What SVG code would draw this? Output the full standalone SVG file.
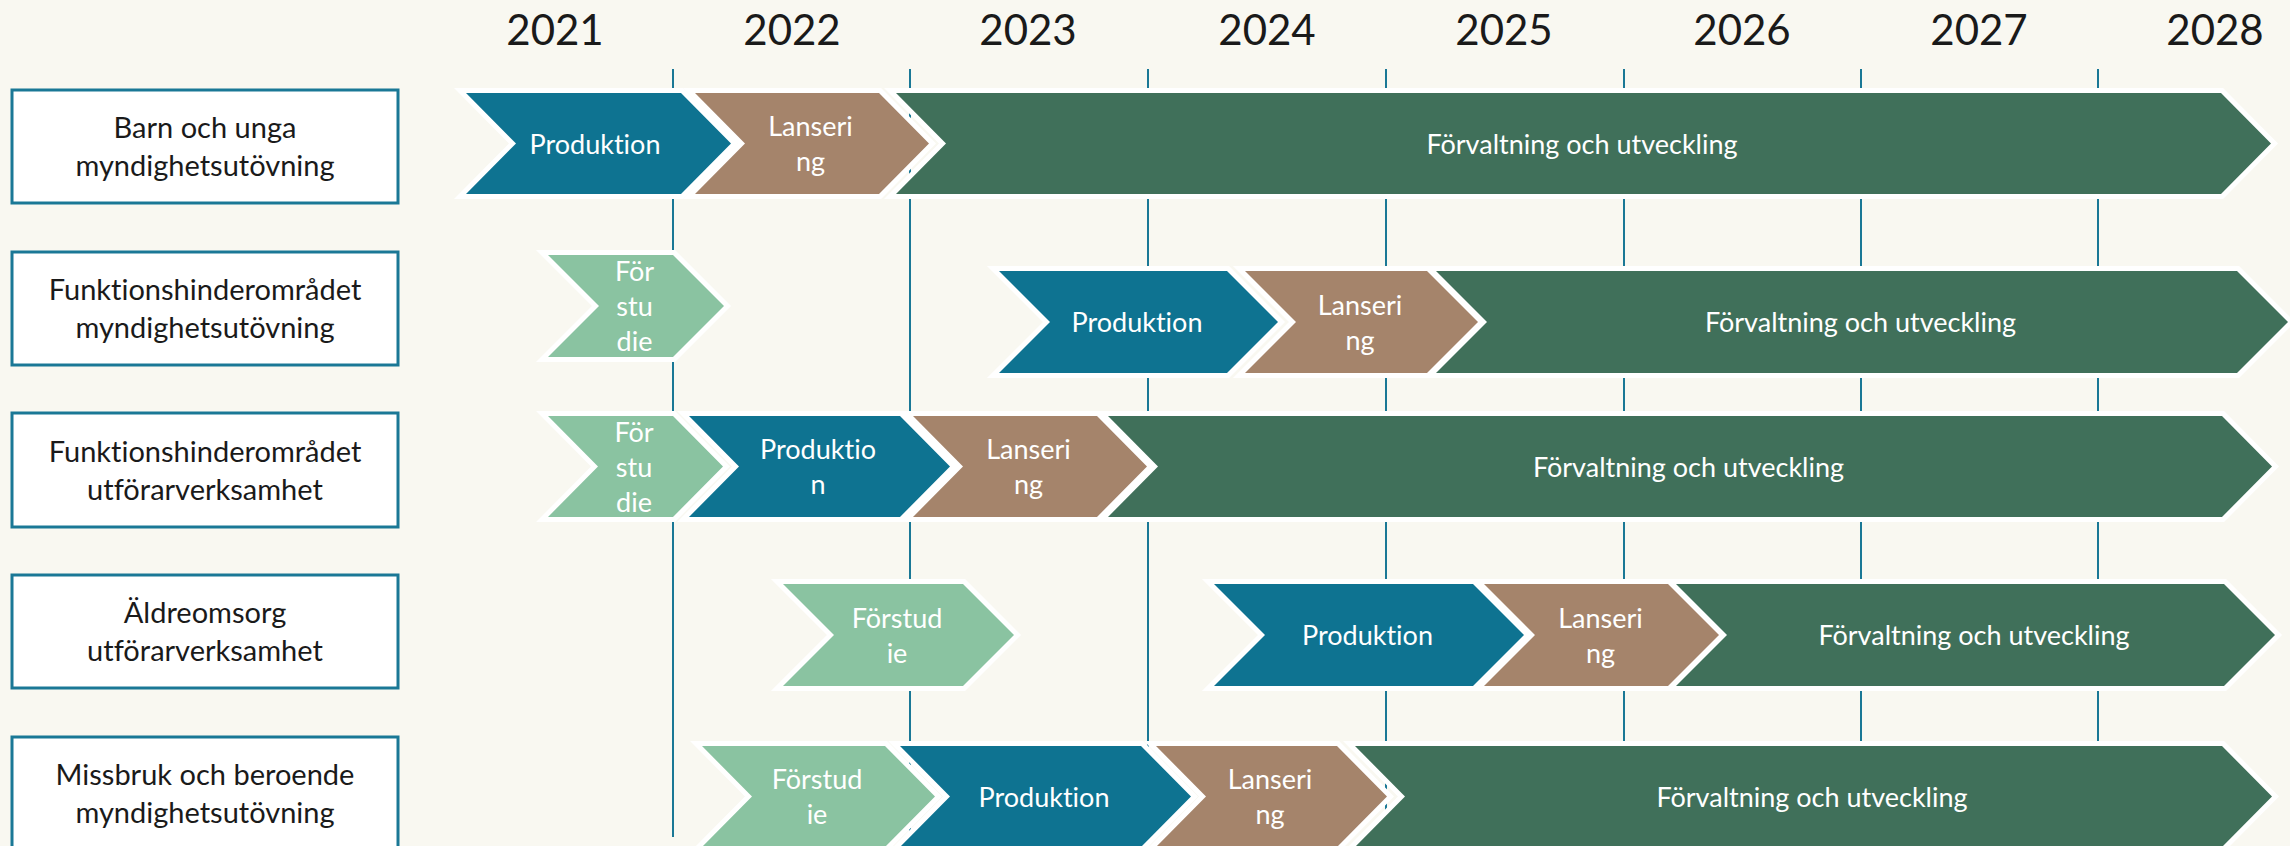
<svg xmlns="http://www.w3.org/2000/svg" width="2290" height="846" viewBox="0 0 2290 846">
<style>
.bg{fill:#F9F8F1}
.grid line{stroke:#1A7896;stroke-width:2}
.box{fill:#FFFFFF;stroke:#1A7896;stroke-width:3}
text{font-variant-ligatures:none;font-feature-settings:"liga" 0,"clig" 0}
.lbl{font-family:Lato,"Liberation Sans",sans-serif;font-size:29px;fill:#1A1A1A;text-anchor:middle}
.yr{font-family:Lato,"Liberation Sans",sans-serif;font-size:42px;fill:#1A1A1A;text-anchor:middle}
.ch{stroke:#FFFFFF;stroke-width:10;stroke-linejoin:miter;stroke-miterlimit:10;paint-order:stroke}
.s{fill:#8AC3A1}.p{fill:#0E7391}.l{fill:#A5846B}.f{fill:#40705A}
.t{font-family:Lato,"Liberation Sans",sans-serif;font-size:27px;fill:#FFFFFF;text-anchor:middle}
</style>
<rect class="bg" x="0" y="0" width="2290" height="846"/>
<g id="years">
<text class="yr" x="555" y="45">2021</text>
<text class="yr" x="792" y="45">2022</text>
<text class="yr" x="1028" y="45">2023</text>
<text class="yr" x="1267" y="45">2024</text>
<text class="yr" x="1504" y="45">2025</text>
<text class="yr" x="1742" y="45">2026</text>
<text class="yr" x="1979" y="45">2027</text>
<text class="yr" x="2215" y="45">2028</text>
</g>
<g id="gridlines" class="grid">
<line x1="673" y1="69" x2="673" y2="837"/>
<line x1="910" y1="69" x2="910" y2="846"/>
<line x1="1148" y1="69" x2="1148" y2="846"/>
<line x1="1386" y1="69" x2="1386" y2="846"/>
<line x1="1624" y1="69" x2="1624" y2="846"/>
<line x1="1861" y1="69" x2="1861" y2="846"/>
<line x1="2098" y1="69" x2="2098" y2="846"/>
</g>
<g id="label-1"><rect class="box" x="12" y="90" width="386" height="113"/><text class="lbl" x="205" y="138">Barn och unga</text><text class="lbl" x="205" y="176">myndighetsutövning</text></g>
<g id="label-2"><rect class="box" x="12" y="252" width="386" height="113"/><text class="lbl" x="205" y="300">Funktionshinderområdet</text><text class="lbl" x="205" y="338">myndighetsutövning</text></g>
<g id="label-3"><rect class="box" x="12" y="413" width="386" height="114"/><text class="lbl" x="205" y="461.5">Funktionshinderområdet</text><text class="lbl" x="205" y="499.5">utförarverksamhet</text></g>
<g id="label-4"><rect class="box" x="12" y="575" width="386" height="113"/><text class="lbl" x="205" y="623">Äldreomsorg</text><text class="lbl" x="205" y="661">utförarverksamhet</text></g>
<g id="label-5"><rect class="box" x="12" y="737" width="386" height="113"/><text class="lbl" x="205" y="785">Missbruk och beroende</text><text class="lbl" x="205" y="823">myndighetsutövning</text></g>

<g id="r1-produktion"><polygon class="ch p" points="466,93 681,93 731,143.5 681,194 466,194 516,143.5"/><text class="t" x="595" y="154">Produktion</text></g>
<g id="r1-lansering"><polygon class="ch l" points="695,93 879,93 929,143.5 879,194 695,194 745,143.5"/><text class="t" x="810.5" y="136">Lanseri</text><text class="t" x="810.5" y="171">ng</text></g>
<g id="r1-forvaltning"><polygon class="ch f" points="896,93 2221,93 2271,143.5 2221,194 896,194 946,143.5"/><text class="t" x="1582" y="154">Förvaltning och utveckling</text></g>

<g id="r2-forstudie"><polygon class="ch s" points="548,255 673,255 724,306 673,357 548,357 599,306"/><text class="t" x="634.5" y="281">För</text><text class="t" x="634.5" y="316">stu</text><text class="t" x="634.5" y="351">die</text></g>
<g id="r2-produktion"><polygon class="ch p" points="999,271 1227,271 1278,322 1227,373 999,373 1050,322"/><text class="t" x="1137" y="332">Produktion</text></g>
<g id="r2-lansering"><polygon class="ch l" points="1245,271 1427,271 1478,322 1427,373 1245,373 1296,322"/><text class="t" x="1360" y="314.5">Lanseri</text><text class="t" x="1360" y="349.5">ng</text></g>
<g id="r2-forvaltning"><polygon class="ch f" points="1436,271 2237,271 2288,322 2237,373 1436,373 1487,322"/><text class="t" x="1860.5" y="332">Förvaltning och utveckling</text></g>

<g id="r3-forstudie"><polygon class="ch s" points="548,416 673,416 723,466.5 673,517 548,517 598,466.5"/><text class="t" x="634" y="441.5">För</text><text class="t" x="634" y="476.5">stu</text><text class="t" x="634" y="511.5">die</text></g>
<g id="r3-produktion"><polygon class="ch p" points="689,416 900,416 950,466.5 900,517 689,517 739,466.5"/><text class="t" x="818" y="459">Produktio</text><text class="t" x="818" y="494">n</text></g>
<g id="r3-lansering"><polygon class="ch l" points="913,416 1097,416 1147,466.5 1097,517 913,517 963,466.5"/><text class="t" x="1028.5" y="459">Lanseri</text><text class="t" x="1028.5" y="494">ng</text></g>
<g id="r3-forvaltning"><polygon class="ch f" points="1108,416 2222,416 2272,466.5 2222,517 1108,517 1158,466.5"/><text class="t" x="1688.5" y="476.5">Förvaltning och utveckling</text></g>

<g id="r4-forstudie"><polygon class="ch s" points="783,584 963,584 1014,635 963,686 783,686 834,635"/><text class="t" x="897" y="627.5">Förstud</text><text class="t" x="897" y="662.5">ie</text></g>
<g id="r4-produktion"><polygon class="ch p" points="1214,584 1473,584 1524,635 1473,686 1214,686 1265,635"/><text class="t" x="1367.5" y="645">Produktion</text></g>
<g id="r4-lansering"><polygon class="ch l" points="1484,584 1668,584 1719,635 1668,686 1484,686 1535,635"/><text class="t" x="1600.5" y="627.5">Lanseri</text><text class="t" x="1600.5" y="662.5">ng</text></g>
<g id="r4-forvaltning"><polygon class="ch f" points="1676,584 2224,584 2275,635 2224,686 1676,686 1727,635"/><text class="t" x="1974" y="645">Förvaltning och utveckling</text></g>

<g id="r5-forstudie"><polygon class="ch s" points="702,746 885,746 935,796.5 885,847 702,847 752,796.5"/><text class="t" x="817" y="789">Förstud</text><text class="t" x="817" y="824">ie</text></g>
<g id="r5-produktion"><polygon class="ch p" points="900,746 1141,746 1191,796.5 1141,847 900,847 950,796.5"/><text class="t" x="1044" y="806.5">Produktion</text></g>
<g id="r5-lansering"><polygon class="ch l" points="1156,746 1337,746 1387,796.5 1337,847 1156,847 1206,796.5"/><text class="t" x="1270" y="789">Lanseri</text><text class="t" x="1270" y="824">ng</text></g>
<g id="r5-forvaltning"><polygon class="ch f" points="1355,746 2222,746 2272,796.5 2222,847 1355,847 1405,796.5"/><text class="t" x="1812" y="806.5">Förvaltning och utveckling</text></g>
</svg>
